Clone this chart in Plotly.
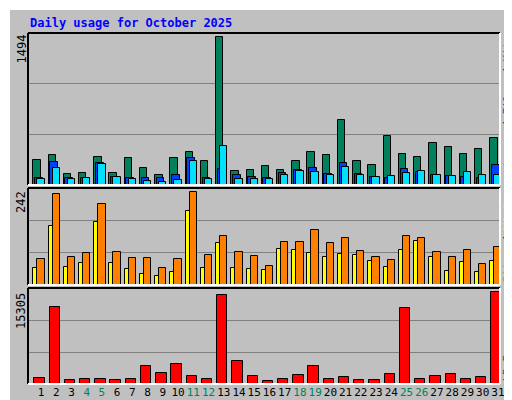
import plotly.graph_objects as go

days = list(range(1, 32))
weekend_days = [4, 5, 11, 12, 18, 19, 25, 26]
hits = [250,303,111,121,283,121,273,172,101,273,333,243,1494,141,152,192,152,243,333,303,657,243,202,495,313,283,424,384,313,364,475]
files = [71,229,71,71,222,81,71,71,71,101,273,71,162,101,81,71,121,152,172,111,222,111,81,71,162,131,101,91,81,71,202]
pages = [61,172,61,71,212,81,61,40,30,51,243,61,394,61,61,61,101,141,131,101,182,101,81,91,121,141,101,91,131,101,101]
visits = [44,154,46,57,164,57,41,28,23,33,193,44,109,44,41,38,93,91,83,73,80,78,62,46,91,114,73,36,59,33,62]
sites = [67,238,73,83,211,86,70,70,44,67,242,78,128,86,75,49,112,112,143,109,122,88,73,65,128,122,86,73,91,54,99]
kbytes = [946,12800,612,779,779,612,779,2950,1781,3283,1280,779,14803,3784,1280,445,779,1447,2950,779,1113,612,612,1614,12633,779,1280,1614,779,1113,15305]

W, H = 512, 400
BG = "#c0c0c0"
MONO = "DejaVu Sans Mono"
px = lambda v: v / W
py = lambda v: 1 - v / H

fig = go.Figure()
line = dict(color="black", width=1)

def bars(vals, color, off, wid, xa, ya):
    fig.add_trace(go.Bar(x=days, y=vals, marker=dict(color=color, line=line),
                         offset=off, width=wid, xaxis=xa, yaxis=ya, showlegend=False,
                         hoverinfo="skip"))

bars(hits, "#00805c", -0.506, 0.486, "x", "y")
bars(files, "#0040ff", -0.394, 0.5, "x", "y")
bars(pages, "#00e0ff", -0.243, 0.48, "x", "y")
bars(visits, "#ffff00", -0.506, 0.486, "x2", "y2")
bars(sites, "#ff8000", -0.243, 0.48, "x2", "y2")
bars(kbytes, "#ff0000", -0.44, 0.68, "x3", "y3")

xr = [0.146, 0.146 + 472 / 15.23]
panels = [(25, 177, 1537, "y", "x"), (180, 277, 253.3, "y2", "x2"), (280, 376, 16020, "y3", "x3")]
ticktext = [f'<span style="color:#00805c">{d}</span>' if d in weekend_days else str(d) for d in days]

for i, (top, bot, ymax, ya, xa) in enumerate(panels):
    suffix = "" if i == 0 else str(i + 1)
    fig.layout["xaxis" + suffix] = dict(domain=[px(20), px(492)], range=xr, anchor=ya,
        showgrid=False, zeroline=False, showline=False, automargin=False, tickangle=0,
        showticklabels=(i == 2), tickvals=days, ticktext=ticktext, ticks="",
        tickfont=dict(family=MONO, size=11, color="black"), fixedrange=True)
    fig.layout["yaxis" + suffix] = dict(domain=[py(bot), py(top)], range=[0, ymax], anchor=xa,
        tickvals=[ymax / 3, 2 * ymax / 3], showticklabels=False, ticks="", automargin=False,
        showgrid=True, gridcolor="#808080", gridwidth=1, zeroline=False, showline=False)
    fig.add_shape(type="line", xref="paper", yref="paper", x0=px(20), x1=px(492), y0=py(top), y1=py(top), line=dict(color="black", width=2))
    fig.add_shape(type="line", xref="paper", yref="paper", x0=px(20), x1=px(20), y0=py(top), y1=py(bot), line=dict(color="black", width=2))
    fig.add_shape(type="line", xref="paper", yref="paper", x0=px(20), x1=px(492), y0=py(bot), y1=py(bot), line=dict(color="white", width=2))
    fig.add_shape(type="line", xref="paper", yref="paper", x0=px(492), x1=px(492), y0=py(top), y1=py(bot), line=dict(color="white", width=2))

fig.add_shape(type="line", xref="paper", yref="paper", x0=0, x1=1, y0=py(1), y1=py(1), line=dict(color="white", width=2))
fig.add_shape(type="line", xref="paper", yref="paper", x0=px(1), x1=px(1), y0=0, y1=1, line=dict(color="white", width=2))
fig.add_shape(type="line", xref="paper", yref="paper", x0=0, x1=1, y0=py(398), y1=py(398), line=dict(color="#808080", width=4))
fig.add_shape(type="line", xref="paper", yref="paper", x0=px(509), x1=px(509), y0=0, y1=1, line=dict(color="#808080", width=5))

ann = []
ann.append(dict(text="<b>Daily usage for October 2025</b>", x=px(20), y=py(15), xanchor="left", yanchor="middle",
                font=dict(family=MONO, size=12, color="#0000ff")))
for lab, top in [("1494", 25), ("242", 181), ("15305", 283)]:
    ann.append(dict(text=lab, textangle=-90, x=px(13), y=py(top), xanchor="center", yanchor="top",
                    font=dict(family=MONO, size=12, color="black")))
ann.append(dict(text='<span style="color:#00e0ff">Pages</span> / <span style="color:#0040ff">Files</span> / <span style="color:#00805c">Hits</span>',
                textangle=-90, x=px(499), y=py(25), xanchor="center", yanchor="top",
                font=dict(family=MONO, size=11, color="black")))
ann.append(dict(text='<span style="color:#ff8000">Sites</span> / <span style="color:#ffff00">Visits</span>',
                textangle=-90, x=px(499), y=py(180), xanchor="center", yanchor="top",
                font=dict(family=MONO, size=11, color="black")))
ann.append(dict(text='kB F', textangle=-90, x=px(499), y=py(376), xanchor="center", yanchor="bottom",
                font=dict(family=MONO, size=11, color="#ff0000")))
for a in ann:
    a.update(xref="paper", yref="paper", showarrow=False)

fig.update_layout(width=W, height=H, margin=dict(l=0, r=0, t=0, b=0, autoexpand=False), paper_bgcolor=BG, plot_bgcolor=BG,
                  barmode="overlay", annotations=ann, bargap=0)
fig.write_html("out.html")
